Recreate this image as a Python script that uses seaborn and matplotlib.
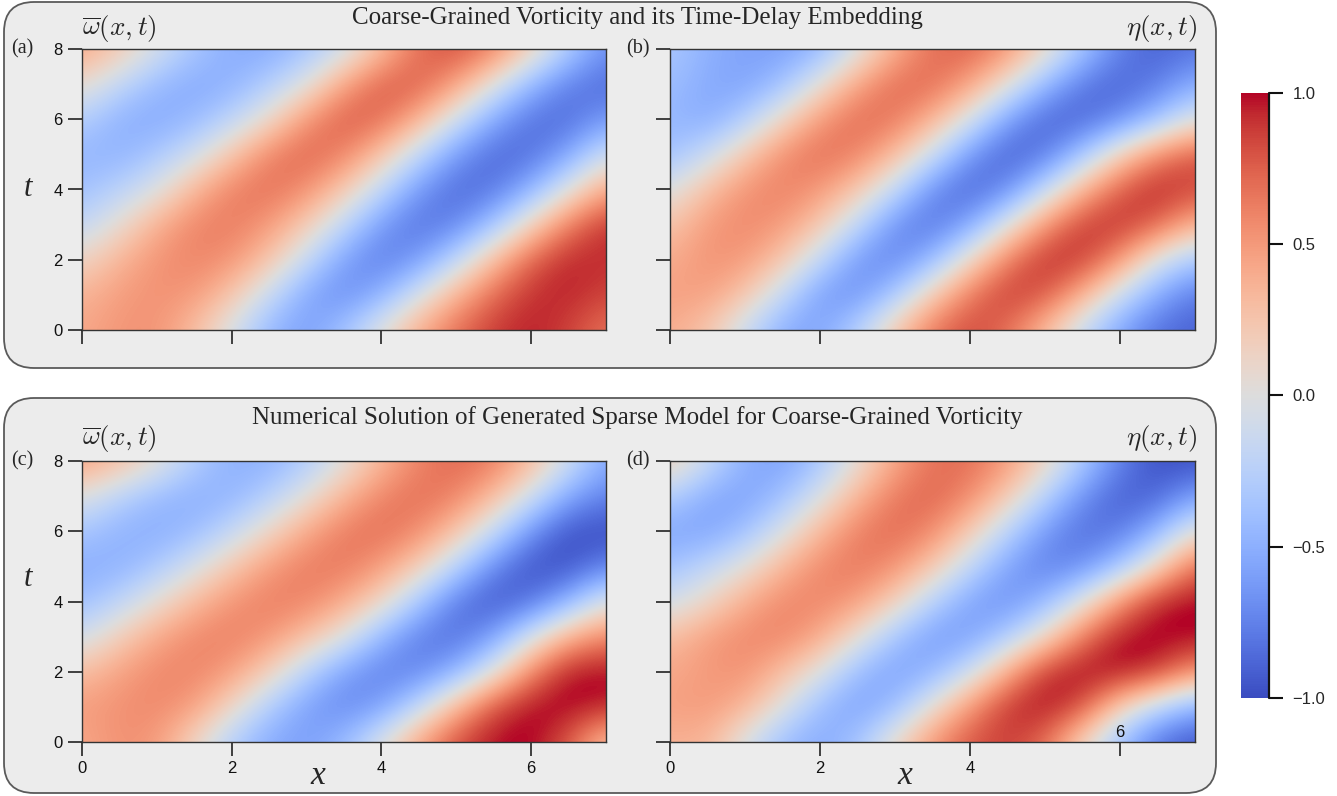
import numpy as np
import matplotlib
matplotlib.use("Agg")
import matplotlib.pyplot as plt
import seaborn as sns
from matplotlib.patches import FancyBboxPatch

# ---------------- data ----------------
x_nodes = [0.0, 0.5, 1.0, 1.5, 2.0, 2.5, 3.0, 3.5, 4.0, 4.5, 5.0, 5.5, 6.0, 6.5, 7.0]
t_nodes = [0, 1, 2, 3, 4, 5, 6, 7, 8]

# rows: t = 0 .. 8 ; columns: x = 0 .. 7 (step 0.5)
omega_ref = [
    [0.42, 0.52, 0.53, 0.30, -0.06, -0.46, -0.60, -0.36, 0.04, 0.42, 0.70, 0.89, 0.96, 0.86, 0.66],
    [0.36, 0.48, 0.54, 0.50, 0.25, -0.15, -0.56, -0.70, -0.49, -0.05, 0.38, 0.72, 0.92, 0.95, 0.85],
    [0.13, 0.36, 0.53, 0.60, 0.53, 0.26, -0.16, -0.60, -0.78, -0.62, -0.20, 0.32, 0.75, 0.95, 0.92],
    [-0.19, 0.07, 0.39, 0.60, 0.64, 0.50, 0.21, -0.20, -0.63, -0.83, -0.74, -0.36, 0.17, 0.65, 0.92],
    [-0.39, -0.24, -0.02, 0.35, 0.62, 0.69, 0.55, 0.23, -0.20, -0.64, -0.87, -0.81, -0.48, 0.00, 0.45],
    [-0.45, -0.48, -0.33, -0.10, 0.26, 0.61, 0.74, 0.61, 0.26, -0.20, -0.63, -0.87, -0.84, -0.56, -0.10],
    [-0.27, -0.49, -0.54, -0.44, -0.22, 0.10, 0.53, 0.77, 0.71, 0.38, -0.10, -0.55, -0.83, -0.86, -0.62],
    [0.08, -0.19, -0.43, -0.54, -0.49, -0.29, 0.00, 0.47, 0.76, 0.76, 0.47, 0.00, -0.46, -0.77, -0.86],
    [0.44, 0.24, -0.06, -0.34, -0.51, -0.53, -0.38, -0.12, 0.30, 0.69, 0.82, 0.63, 0.20, -0.29, -0.67],
]
eta_ref = [
    [0.40, 0.25, -0.15, -0.53, -0.57, -0.24, 0.26, 0.68, 0.84, 0.69, 0.30, -0.18, -0.59, -0.84, -0.90],
    [0.46, 0.47, 0.25, -0.17, -0.62, -0.67, -0.32, 0.22, 0.67, 0.89, 0.79, 0.38, -0.14, -0.55, -0.80],
    [0.40, 0.53, 0.50, 0.25, -0.18, -0.65, -0.74, -0.43, 0.12, 0.64, 0.93, 0.89, 0.52, -0.05, -0.35],
    [0.25, 0.50, 0.58, 0.50, 0.24, -0.19, -0.69, -0.83, -0.55, 0.00, 0.54, 0.89, 0.92, 0.74, 0.36],
    [-0.03, 0.30, 0.54, 0.62, 0.51, 0.24, -0.18, -0.70, -0.90, -0.70, -0.18, 0.37, 0.78, 0.96, 0.85],
    [-0.39, -0.14, 0.24, 0.56, 0.70, 0.61, 0.32, -0.12, -0.65, -0.92, -0.80, -0.35, 0.19, 0.60, 0.80],
    [-0.44, -0.54, -0.29, 0.13, 0.51, 0.71, 0.66, 0.37, -0.06, -0.59, -0.89, -0.89, -0.70, -0.39, 0.00],
    [-0.40, -0.53, -0.58, -0.39, 0.04, 0.46, 0.71, 0.71, 0.46, 0.04, -0.45, -0.80, -0.90, -0.78, -0.52],
    [-0.32, -0.49, -0.57, -0.60, -0.47, -0.05, 0.39, 0.69, 0.75, 0.54, 0.14, -0.35, -0.75, -0.90, -0.81],
]
omega_model = [
    [0.42, 0.54, 0.50, 0.12, -0.30, -0.54, -0.60, -0.42, 0.00, 0.48, 0.84, 1.00, 1.02, 0.78, 0.24],
    [0.48, 0.54, 0.58, 0.48, 0.12, -0.30, -0.60, -0.72, -0.60, -0.18, 0.36, 0.84, 1.02, 1.03, 0.96],
    [0.30, 0.46, 0.58, 0.60, 0.48, 0.18, -0.24, -0.60, -0.76, -0.74, -0.48, 0.00, 0.60, 1.00, 1.02],
    [-0.09, 0.19, 0.43, 0.58, 0.62, 0.52, 0.29, 0.00, -0.46, -0.77, -0.85, -0.59, -0.06, 0.40, 0.60],
    [-0.41, -0.21, 0.06, 0.33, 0.53, 0.63, 0.60, 0.42, 0.13, -0.34, -0.79, -0.96, -0.83, -0.48, 0.00],
    [-0.51, -0.49, -0.32, -0.06, 0.24, 0.49, 0.64, 0.65, 0.49, 0.20, -0.24, -0.72, -0.98, -0.98, -0.74],
    [-0.34, -0.48, -0.52, -0.42, -0.18, 0.13, 0.43, 0.64, 0.70, 0.57, 0.27, -0.17, -0.67, -0.98, -1.00],
    [0.00, -0.24, -0.42, -0.51, -0.47, -0.27, 0.03, 0.36, 0.60, 0.70, 0.61, 0.32, -0.10, -0.56, -0.75],
    [0.47, 0.32, 0.06, -0.27, -0.49, -0.49, -0.31, 0.00, 0.34, 0.60, 0.72, 0.64, 0.34, -0.10, -0.53],
]
eta_model = [
    [0.36, 0.36, -0.06, -0.42, -0.54, -0.36, 0.12, 0.54, 0.80, 0.87, 0.70, 0.12, -0.42, -0.84, -0.96],
    [0.46, 0.50, 0.36, 0.00, -0.42, -0.60, -0.42, 0.06, 0.54, 0.92, 1.00, 0.82, 0.18, -0.24, -0.54],
    [0.42, 0.50, 0.54, 0.30, 0.00, -0.42, -0.60, -0.48, -0.12, 0.42, 0.92, 1.02, 1.02, 0.92, 0.54],
    [0.30, 0.48, 0.58, 0.60, 0.42, 0.06, -0.36, -0.62, -0.60, -0.30, 0.12, 0.66, 1.00, 1.03, 1.02],
    [-0.10, 0.12, 0.40, 0.58, 0.60, 0.48, 0.18, -0.25, -0.58, -0.68, -0.45, 0.00, 0.55, 0.97, 1.02],
    [-0.38, -0.20, 0.03, 0.35, 0.58, 0.66, 0.54, 0.24, -0.19, -0.58, -0.77, -0.69, -0.36, 0.14, 0.73],
    [-0.56, -0.58, -0.39, -0.04, 0.34, 0.62, 0.72, 0.58, 0.22, -0.24, -0.64, -0.85, -0.79, -0.47, 0.05],
    [-0.27, -0.54, -0.59, -0.40, -0.04, 0.36, 0.65, 0.74, 0.58, 0.22, -0.25, -0.68, -0.92, -0.89, -0.59],
    [0.22, -0.13, -0.50, -0.59, -0.37, 0.04, 0.43, 0.68, 0.70, 0.51, 0.16, -0.31, -0.74, -0.98, -0.98],
]

x_ticks = [0, 2, 4, 6]
t_ticks = [0, 2, 4, 6, 8]
cbar_ticks = [-1.0, -0.5, 0.0, 0.5, 1.0]
title_top = "Coarse-Grained Vorticity and its Time-Delay Embedding"
title_bottom = "Numerical Solution of Generated Sparse Model for Coarse-Grained Vorticity"
label_omega = r"$\overline{\omega}(x,t)$"
label_eta = r"$\eta(x,t)$"
panel_tags = ["(a)", "(b)", "(c)", "(d)"]

# ---------------- style ----------------
sns.set_theme(style="ticks")
plt.rcParams["font.family"] = ["Liberation Sans", "DejaVu Sans"]
plt.rcParams["mathtext.fontset"] = "cm"
cmap = sns.color_palette("coolwarm", as_cmap=True)

W, H = 1337, 796
fig = plt.figure(figsize=(W / 100, H / 100), dpi=100, facecolor="white")

# pixel-coordinate background axes for the rounded boxes and texts
bg = fig.add_axes([0, 0, 1, 1], zorder=-5)
bg.set_xlim(0, W)
bg.set_ylim(H, 0)
bg.axis("off")
for (x0, y0, x1, y1) in [(4, 2, 1216, 368), (4, 398, 1216, 793)]:
    bg.add_patch(FancyBboxPatch((x0, y0), x1 - x0, y1 - y0,
                                boxstyle="round,pad=0,rounding_size=30",
                                fc="#ececec", ec="#5a5a5a", lw=1.3))


def px_axes(l, t, r, b):
    return fig.add_axes([l / W, 1 - b / H, (r - l) / W, (b - t) / H])


serif = "Liberation Serif"
dx = (x_nodes[1] - x_nodes[0]) / 2
dt = (t_nodes[1] - t_nodes[0]) / 2
extent = [x_nodes[0] - dx, x_nodes[-1] + dx, t_nodes[0] - dt, t_nodes[-1] + dt]

panels = [
    (omega_ref, (82, 49, 606, 330), True, False),
    (eta_ref, (670, 49, 1195, 330), False, False),
    (omega_model, (82, 461, 606, 742), True, True),
    (eta_model, (670, 461, 1195, 742), False, True),
]
axes = []
im = None
for Z, (l, t, r, b), left, bottom in panels:
    ax = px_axes(l, t, r, b)
    im = ax.imshow(np.array(Z), origin="lower", extent=extent, cmap=cmap,
                   vmin=-1, vmax=1, interpolation="bicubic", aspect="auto")
    ax.set_xlim(0, 7)
    ax.set_ylim(0, 8)
    ax.set_xticks(x_ticks)
    ax.set_yticks(t_ticks)
    ax.tick_params(direction="out", length=10, width=1.2, color="#222222",
                   labelsize=12, pad=4, labelcolor="#111111")
    if not left:
        ax.set_yticklabels([])
    if not bottom:
        ax.set_xticklabels([])
    for s in ax.spines.values():
        s.set_color("#333333")
        s.set_linewidth(1.0)
    axes.append(ax)

# odd tick label of panel (d): the "6" sits inside the plot
axes[3].set_xticklabels(["0", "2", "4", ""])
axes[3].text(6, 0.06, "6", ha="center", va="bottom", fontsize=12, color="#111111")

# colorbar
cax = px_axes(1241, 93, 1269, 698)
cb = fig.colorbar(im, cax=cax)
cb.set_ticks(cbar_ticks)
cb.outline.set_visible(False)
cax.tick_params(direction="out", length=10, width=1.5, labelsize=12, pad=7, color="#111111")
cax.plot([1, 1], [0, 1], transform=cax.transAxes, color="#111111", lw=1.6, clip_on=False)

# titles and labels
bg.text(637, 18, title_top, ha="center", va="center", family=serif, fontsize=18)
bg.text(637, 418, title_bottom, ha="center", va="center", family=serif, fontsize=18)
for y in (29, 439):
    bg.text(82, y, label_omega, ha="left", va="center", fontsize=19.5)
    bg.text(1197, y, label_eta, ha="right", va="center", fontsize=19.5)
for tag, (x, y) in zip(panel_tags, [(22, 49), (638, 49), (22, 461), (638, 461)]):
    bg.text(x, y, tag, ha="center", va="center", family=serif, fontsize=14.5)
for y in (188, 578):
    bg.text(28, y, "t", ha="center", va="center", family=serif, style="italic", fontsize=22)
for x in (318, 905):
    bg.text(x, 776, "x", ha="center", va="center", family=serif, style="italic", fontsize=24)

fig.savefig("out.png", dpi=100, facecolor="white")
